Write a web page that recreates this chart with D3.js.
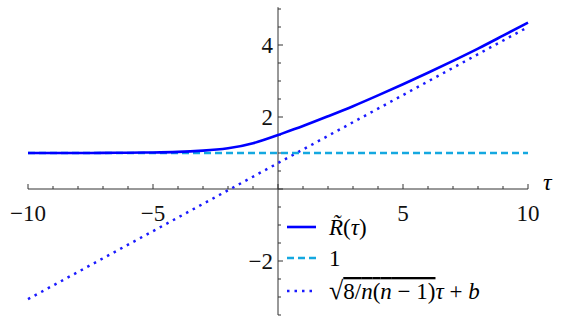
<!DOCTYPE html>
<html>
<head>
<meta charset="utf-8">
<script src="https://cdn.jsdelivr.net/npm/d3@7"></script>
</head>
<body style="margin:0">
<svg id="chart"></svg>
<script>
// values
var tauValues = [-10,-9,-8,-7,-6,-5,-4,-3,-2,-1,0,1,2,3,4,5,6,7,8,9,10];
var rValues   = [1.00,1.00,1.00,1.003,1.008,1.015,1.03,1.065,1.13,1.27,1.50,1.75,2.02,2.30,2.60,2.91,3.23,3.56,3.90,4.26,4.62];
var asymTau   = [-10, 10];
var asymValues = [-3.06, 4.50];
var constValue = 1;
var xTicks = [-10, -5, 5, 10];
var yTicks = [-2, 2, 4];

var serif = "Liberation Serif";
var width = 566, height = 324;
var svg = d3.select("#chart").attr("width", width).attr("height", height);

var x = d3.scaleLinear().domain([-10, 10]).range([28, 528]);
var y = d3.scaleLinear().domain([-3.5, 5.05]).range([315, 7.2]);

var axisColor = "#333";

//********** labels **********//
svg.selectAll(".xlabel")
  .data(xTicks)
  .enter()
  .append("text")
  .attr("x", function(d) { return x(d); })
  .attr("y", y(0) + 32)
  .attr("text-anchor", "middle")
  .attr("font-family", serif)
  .attr("font-size", 23)
  .attr("fill", "#111")
  .text(function(d) { return d < 0 ? "\u2212" + Math.abs(d) : d; });

svg.selectAll(".ylabel")
  .data(yTicks)
  .enter()
  .append("text")
  .attr("x", x(0) - 5)
  .attr("y", function(d) { return y(d) + 8; })
  .attr("text-anchor", "end")
  .attr("font-family", serif)
  .attr("font-size", 23)
  .attr("fill", "#111")
  .text(function(d) { return d < 0 ? "\u2212" + Math.abs(d) : d; });

svg.append("text")
  .attr("x", 543).attr("y", y(0) + 1)
  .attr("font-family", serif)
  .attr("font-size", 24)
  .attr("font-style", "italic")
  .text("\u03c4");

//********** axes **********//
svg.append("line")
  .attr("x1", x(-10)).attr("x2", x(10))
  .attr("y1", y(0)).attr("y2", y(0))
  .attr("stroke", axisColor).attr("stroke-width", 1);

svg.append("line")
  .attr("x1", x(0)).attr("x2", x(0))
  .attr("y1", y(-3.5)).attr("y2", y(5.05))
  .attr("stroke", axisColor).attr("stroke-width", 1);

// x ticks, every unit, majors every 5
svg.selectAll(".xtick")
  .data(d3.range(-10, 11, 1))
  .enter()
  .append("line")
  .attr("x1", function(d) { return x(d); })
  .attr("x2", function(d) { return x(d); })
  .attr("y1", y(0))
  .attr("y2", function(d) { return y(0) - (d % 5 == 0 ? 5 : 3); })
  .attr("stroke", axisColor);

// y ticks, every half unit, majors every 2
svg.selectAll(".ytick")
  .data(d3.range(-3.5, 5.01, 0.5))
  .enter()
  .append("line")
  .attr("x1", x(0))
  .attr("x2", function(d) { return x(0) + (Math.abs(d % 2) < 1e-9 ? 5 : 3); })
  .attr("y1", function(d) { return y(d); })
  .attr("y2", function(d) { return y(d); })
  .attr("stroke", axisColor);

//********** curves **********//
var line = d3.line()
  .x(function(d) { return x(d[0]); })
  .y(function(d) { return y(d[1]); });

svg.append("path")
  .datum(asymTau.map(function(t, i) { return [t, asymValues[i]]; }))
  .attr("d", line)
  .attr("fill", "none")
  .attr("stroke", "#1a1aff")
  .attr("stroke-width", 2.5)
  .attr("stroke-dasharray", "2.5,5");

svg.append("path")
  .datum([[-10, constValue], [10, constValue]])
  .attr("d", line)
  .attr("fill", "none")
  .attr("stroke", "#14a8e0")
  .attr("stroke-width", 2.5)
  .attr("stroke-dasharray", "7,4");

svg.append("path")
  .datum(tauValues.map(function(t, i) { return [t, rValues[i]]; }))
  .attr("d", line.curve(d3.curveNatural))
  .attr("fill", "none")
  .attr("stroke", "#0000ff")
  .attr("stroke-width", 2.6);

//********** legend **********//
var rows = [
  { y: 227, color: "#0000ff", dash: null },
  { y: 258, color: "#14a8e0", dash: "7,4" },
  { y: 291, color: "#1a1aff", dash: "2.5,5" }
];
rows.forEach(function(r) {
  svg.append("line")
    .attr("x1", 287).attr("x2", 316)
    .attr("y1", r.y).attr("y2", r.y)
    .attr("stroke", r.color)
    .attr("stroke-width", 2.6)
    .attr("stroke-dasharray", r.dash);
});

var t1 = svg.append("text").attr("x", 329).attr("y", 235)
  .attr("font-family", serif).attr("font-size", 23);
t1.append("tspan").attr("font-style", "italic").text("R\u0303");
t1.append("tspan").text("(");
t1.append("tspan").attr("font-style", "italic").text("\u03c4");
t1.append("tspan").text(")");

svg.append("text").attr("x", 329).attr("y", 266)
  .attr("font-family", serif).attr("font-size", 23).text("1");

var t3 = svg.append("text").attr("x", 329).attr("y", 299)
  .attr("font-family", serif).attr("font-size", 23);
t3.append("tspan").attr("font-size", 26).text("\u221a");
var rad = t3.append("tspan").style("text-decoration", "overline");
rad.append("tspan").text("8/");
rad.append("tspan").attr("font-style", "italic").text("n");
rad.append("tspan").text("(");
rad.append("tspan").attr("font-style", "italic").text("n");
rad.append("tspan").text(" \u2212 1)");
t3.append("tspan").attr("font-style", "italic").text("\u03c4");
t3.append("tspan").text(" + ");
t3.append("tspan").attr("font-style", "italic").text("b");
</script>
</body>
</html>
